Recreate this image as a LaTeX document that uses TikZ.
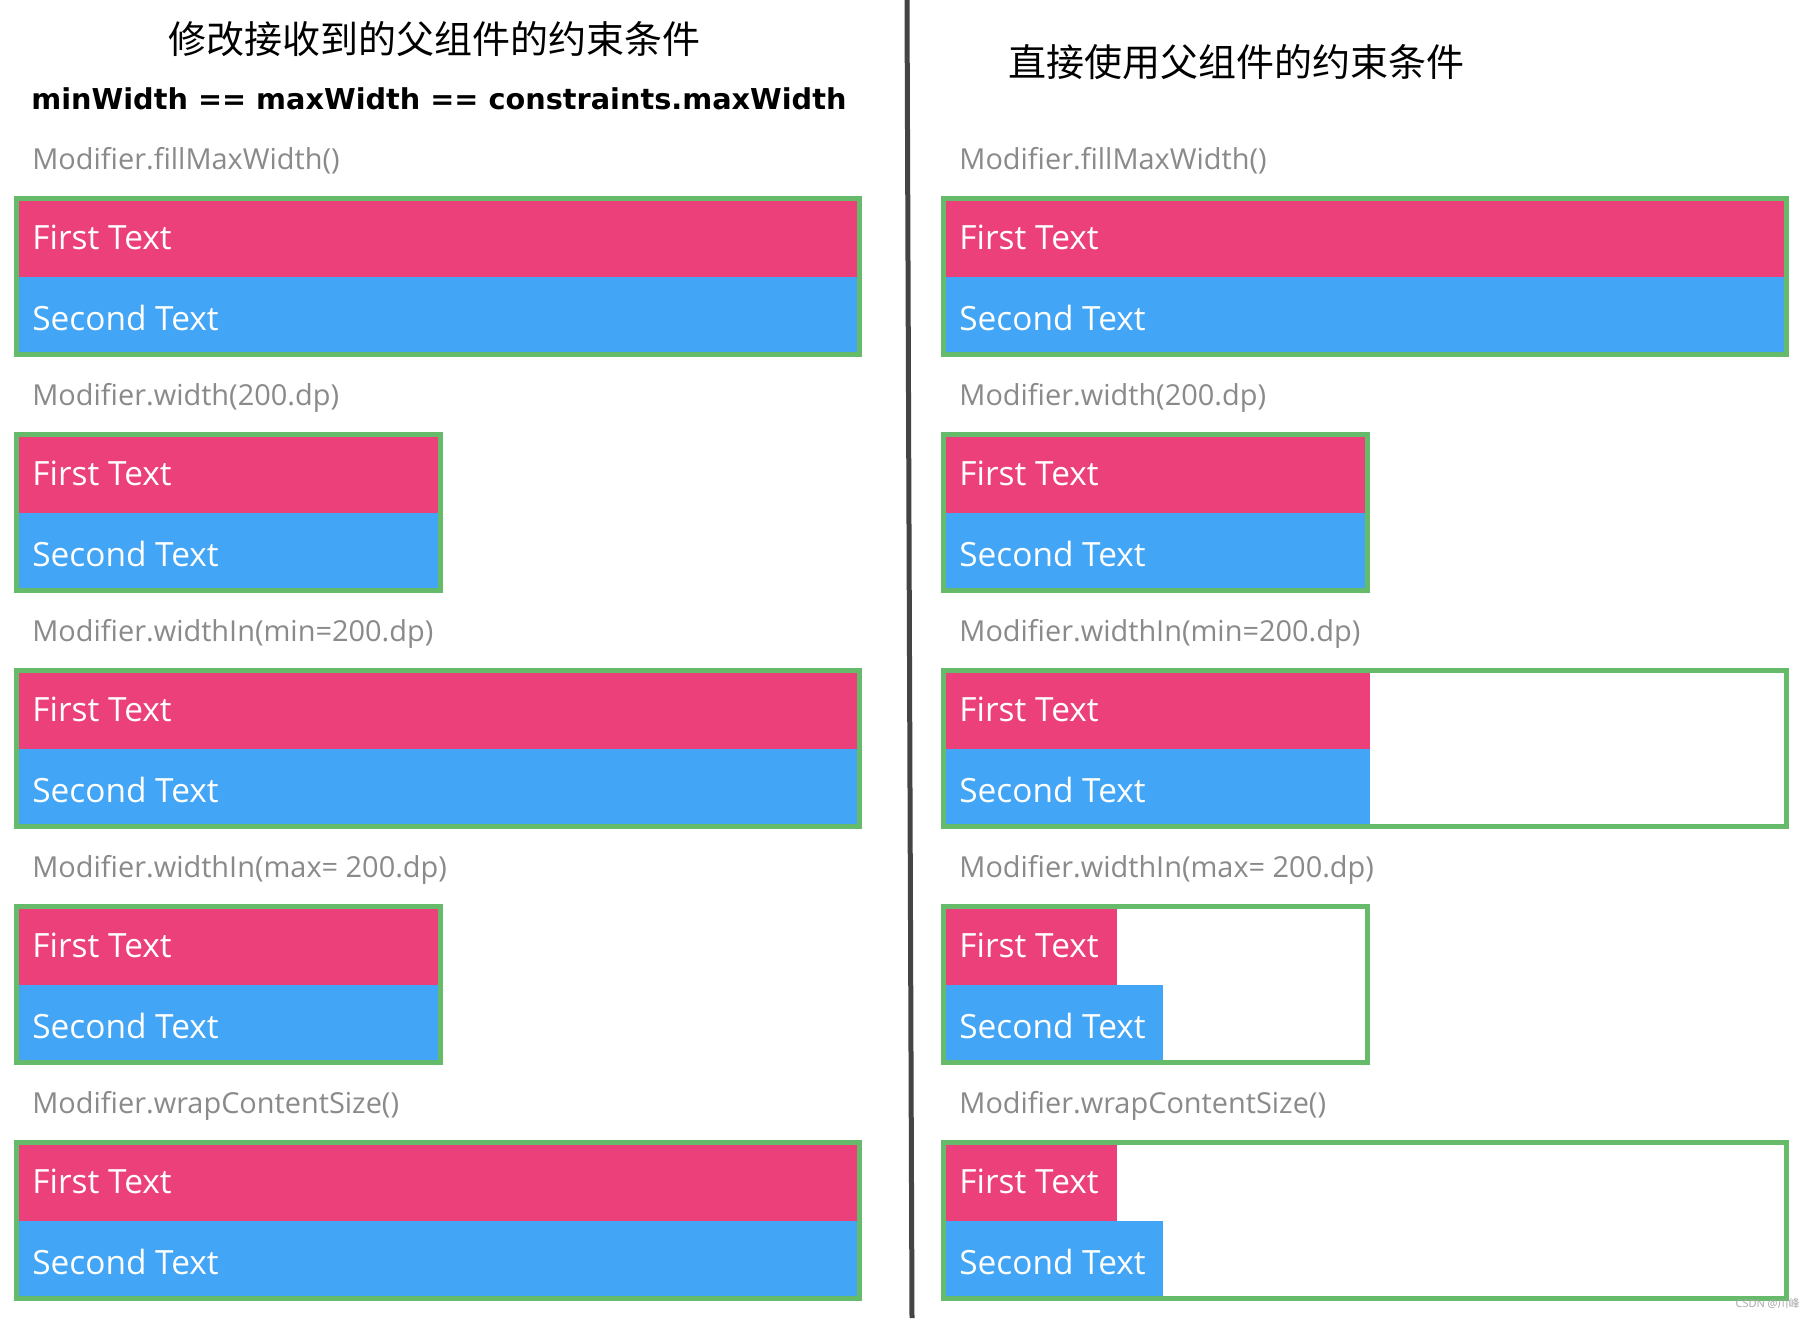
\documentclass[tikz,border=0pt]{standalone}
\usepackage{fontspec}
\setmainfont{Open Sans}
\newfontfamily\cjk{Noto Sans CJK SC}
\newfontfamily\djv{DejaVu Sans}
\definecolor{pinkc}{HTML}{EC407A}
\definecolor{bluec}{HTML}{42A5F5}
\definecolor{greenc}{HTML}{66BB6A}
\definecolor{labelc}{HTML}{8A8A8A}
\definecolor{sepc}{HTML}{444444}
\tikzset{
  boxtext/.style={anchor=base west, inner sep=0pt, text=white, font=\fontsize{16.7}{18}\selectfont},
  lbl/.style={anchor=base west, inner sep=0pt, text=labelc, font=\fontsize{14.45}{16}\selectfont},
  frame/.style={draw=greenc, line width=2.5pt},
  title/.style={inner sep=0pt, font=\cjk\fontsize{19}{20}\selectfont},
}
\newcommand{\mypanel}[7]{%
  \fill[pinkc] (#2+5,#3+5) rectangle (#5,#3+81);
  \fill[bluec] (#2+5,#3+81) rectangle (#6,#3+156);
  \draw[frame] (#2+2.5,#3+2.5) rectangle (#2+#4-2.5,#3+158.5);
  \node[lbl] (#1-lbl) at (#2+18,#3-27) {#7};
  \node[boxtext] (#1-a) at (#2+18,#3+53) {First Text};
  \node[boxtext] (#1-b) at (#2+18,#3+134) {Second Text};
}
\begin{document}
\begin{tikzpicture}[x=0.5pt,y=-0.5pt]
\useasboundingbox (0,0) rectangle (1815,1318);
\fill[white] (0,0) rectangle (1815,1318);
% separator
\coordinate (septop) at (907,0);
\coordinate (sepbot) at (912,1318);
\draw[sepc, line width=2.5pt] (septop) -- (sepbot);
% titles
\node[title] (t1) at (434,39) {修改接收到的父组件的约束条件};
\node[title] (t2) at (1236,62) {直接使用父组件的约束条件};
\node[anchor=base west, inner sep=0pt, font=\djv\bfseries\fontsize{14.37}{16}\selectfont] (t3) at (31,109) {minWidth == maxWidth == constraints.maxWidth};
% left column
\mypanel{L0}{14}{196}{848}{857}{857}{Modifier.fillMaxWidth()}
\mypanel{L1}{14}{432}{429}{438}{438}{Modifier.width(200.dp)}
\mypanel{L2}{14}{668}{848}{857}{857}{Modifier.widthIn(min=200.dp)}
\mypanel{L3}{14}{904}{429}{438}{438}{Modifier.widthIn(max= 200.dp)}
\mypanel{L4}{14}{1140}{848}{857}{857}{Modifier.wrapContentSize()}
% right column
\mypanel{R0}{941}{196}{848}{1784}{1784}{Modifier.fillMaxWidth()}
\mypanel{R1}{941}{432}{429}{1365}{1365}{Modifier.width(200.dp)}
\mypanel{R2}{941}{668}{848}{1370}{1370}{Modifier.widthIn(min=200.dp)}
\mypanel{R3}{941}{904}{429}{1117}{1163}{Modifier.widthIn(max= 200.dp)}
\mypanel{R4}{941}{1140}{848}{1117}{1163}{Modifier.wrapContentSize()}
% watermark
\node[anchor=base east, inner sep=0pt, text=black!35, font=\fontsize{5.5}{6}\selectfont] (wm) at (1800,1307) {CSDN @{\cjk 川峰}};
\end{tikzpicture}
\end{document}
